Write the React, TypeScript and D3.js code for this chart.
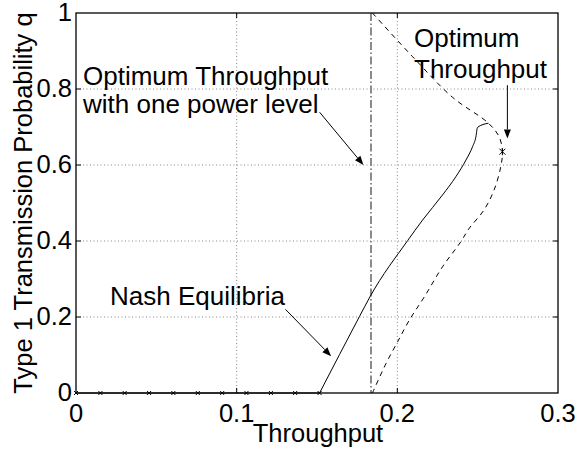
import { useEffect, useRef } from 'react';
import * as d3 from 'd3';

// x markers along q = 0 (Nash equilibria at zero transmission)
const zeroThroughput = [0, 0.0152, 0.0303, 0.0455, 0.0606, 0.0758, 0.091, 0.1061, 0.1213, 0.1364, 0.1516];

// Nash equilibria curve (solid)
const nashThroughput = [0, 0.1516, 0.1764, 0.1832, 0.2064, 0.2157, 0.2281, 0.2364, 0.2427, 0.2468, 0.2489, 0.2499, 0.2567];
const nashQ = [0, 0, 0.201, 0.255, 0.401, 0.455, 0.521, 0.569, 0.613, 0.648, 0.674, 0.699, 0.71];

// Optimum throughput curve (dashed)
const optThroughput = [0.1845, 0.2095, 0.2344, 0.2567, 0.2634, 0.2654, 0.2644, 0.2602, 0.254, 0.2445, 0.2395, 0.2281, 0.2168, 0.2075, 0.2002, 0.193, 0.1845];
const optQ = [1, 0.885, 0.778, 0.71, 0.674, 0.635, 0.596, 0.534, 0.482, 0.432, 0.398, 0.332, 0.253, 0.192, 0.135, 0.078, 0];

// optimum with one power level (vertical dash-dot)
const onePowerThroughput = 0.1836;
const optimumPoint = [0.2654, 0.635];

const xTicks = [0, 0.1, 0.2, 0.3];
const yTicks = [0, 0.2, 0.4, 0.6, 0.8, 1];

const App = () => {
    const svgRef = useRef<SVGSVGElement>(null);
    const width = 587;
    const height = 452;
    const font = '"Liberation Sans", Arial, Helvetica, sans-serif';

    useEffect(() => {
        const svg = d3.select(svgRef.current);
        svg.selectAll('*').remove();

        const x = d3.scaleLinear().domain([0, 0.3]).range([76, 558]);
        const y = d3.scaleLinear().domain([0, 1]).range([393, 13]);

        // grid
        const grid = svg.append('g')
            .attr('stroke', '#888')
            .attr('stroke-width', 1)
            .attr('stroke-dasharray', '1,2.5');
        grid.selectAll('.gx')
            .data(xTicks.slice(1, -1))
            .join('line')
            .attr('x1', d => x(d)).attr('x2', d => x(d))
            .attr('y1', y(0)).attr('y2', y(1));
        grid.selectAll('.gy')
            .data(yTicks.slice(1, -1))
            .join('line')
            .attr('class', 'gy')
            .attr('x1', x(0)).attr('x2', x(0.3))
            .attr('y1', d => y(d)).attr('y2', d => y(d));

        // vertical dash-dot line
        svg.append('line')
            .attr('x1', x(onePowerThroughput)).attr('x2', x(onePowerThroughput))
            .attr('y1', y(1)).attr('y2', y(0))
            .attr('stroke', '#8a8a8a')
            .attr('stroke-width', 2)
            .attr('stroke-dasharray', '8,2.5,1.5,2.5');

        // dashed optimum
        const optLine = d3.line<number>()
            .x((_, i) => x(optThroughput[i]))
            .y(d => y(d))
            .curve(d3.curveCatmullRom.alpha(0.5));
        svg.append('path')
            .attr('d', optLine(optQ))
            .attr('fill', 'none')
            .attr('stroke', 'black')
            .attr('stroke-width', 1)
            .attr('stroke-dasharray', '5,4.5');

        // solid nash: flat part along q = 0, then the rising branch
        const flatLine = d3.line<number>()
            .x((_, i) => x(nashThroughput[i]))
            .y(d => y(d));
        const riseX = nashThroughput.slice(1);
        const riseLine = d3.line<number>()
            .x((_, i) => x(riseX[i]))
            .y(d => y(d))
            .curve(d3.curveMonotoneX);
        svg.append('path')
            .attr('d', (flatLine(nashQ.slice(0, 2)) ?? '') + (riseLine(nashQ.slice(1)) ?? ''))
            .attr('fill', 'none')
            .attr('stroke', 'black')
            .attr('stroke-width', 1);

        // x markers
        const s = 2;
        svg.append('g')
            .selectAll('path')
            .data(zeroThroughput)
            .join('path')
            .attr('d', d => `M${x(d) - s},${y(0) - s}L${x(d) + s},${y(0) + s}M${x(d) - s},${y(0) + s}L${x(d) + s},${y(0) - s}`)
            .attr('stroke', 'black')
            .attr('stroke-width', 1);

        // star marker
        const sx = x(optimumPoint[0]);
        const sy = y(optimumPoint[1]);
        const r = 3;
        svg.append('path')
            .attr('d', `M${sx - r},${sy - r}L${sx + r},${sy + r}M${sx - r},${sy + r}L${sx + r},${sy - r}M${sx},${sy - r - 0.5}L${sx},${sy + r + 0.5}`)
            .attr('stroke', 'black')
            .attr('stroke-width', 1);

        // axes box
        svg.append('rect')
            .attr('x', x(0)).attr('y', y(1))
            .attr('width', x(0.3) - x(0)).attr('height', y(0) - y(1))
            .attr('fill', 'none')
            .attr('stroke', 'black')
            .attr('stroke-width', 1.3);

        const tk = svg.append('g').attr('stroke', 'black').attr('stroke-width', 1);
        xTicks.slice(1, -1).forEach(t => {
            tk.append('line').attr('x1', x(t)).attr('x2', x(t)).attr('y1', y(0)).attr('y2', y(0) - 5);
            tk.append('line').attr('x1', x(t)).attr('x2', x(t)).attr('y1', y(1)).attr('y2', y(1) + 5);
        });
        yTicks.slice(1, -1).forEach(t => {
            tk.append('line').attr('x1', x(0)).attr('x2', x(0) + 5).attr('y1', y(t)).attr('y2', y(t));
            tk.append('line').attr('x1', x(0.3)).attr('x2', x(0.3) - 5).attr('y1', y(t)).attr('y2', y(t));
        });

        // tick labels
        svg.append('g')
            .selectAll('text')
            .data(xTicks)
            .join('text')
            .attr('x', d => x(d))
            .attr('y', 422)
            .attr('text-anchor', 'middle')
            .style('font-family', font)
            .style('font-size', '25.5px')
            .text(d => d3.format('')(d));
        svg.append('g')
            .selectAll('text')
            .data(yTicks)
            .join('text')
            .attr('x', 72)
            .attr('y', d => y(d) + 8)
            .attr('text-anchor', 'end')
            .style('font-family', font)
            .style('font-size', '25.5px')
            .text(d => d3.format('')(d));

        // axis titles
        svg.append('text')
            .attr('x', 318)
            .attr('y', 442)
            .attr('text-anchor', 'middle')
            .style('font-family', font)
            .style('font-size', '25.5px')
            .text('Throughput');
        svg.append('text')
            .attr('transform', `translate(32, ${(y(0) + y(1)) / 2}) rotate(-90)`)
            .attr('text-anchor', 'middle')
            .style('font-family', font)
            .style('font-size', '25.5px')
            .text('Type 1 Transmission Probability q');

        // annotations
        const note = (tx: number, ty: number, str: string) => svg.append('text')
            .attr('x', tx).attr('y', ty)
            .style('font-family', font)
            .style('font-size', '26px')
            .text(str);
        note(83, 85, 'Optimum Throughput');
        note(83, 113, 'with one power level');
        note(414, 47, 'Optimum');
        note(414, 78, 'Throughput');
        note(110, 305, 'Nash Equilibria');

        const arrow = (x0: number, y0: number, x1: number, y1: number) => {
            const ax0 = x(x0), ay0 = y(y0), ax1 = x(x1), ay1 = y(y1);
            const ang = Math.atan2(ay1 - ay0, ax1 - ax0);
            const len = 9, half = 3.5;
            const bx = ax1 - len * Math.cos(ang), by = ay1 - len * Math.sin(ang);
            svg.append('line')
                .attr('x1', ax0).attr('y1', ay0).attr('x2', bx).attr('y2', by)
                .attr('stroke', 'black').attr('stroke-width', 1);
            svg.append('path')
                .attr('d', `M${ax1},${ay1}L${bx + half * Math.sin(ang)},${by - half * Math.cos(ang)}L${bx - half * Math.sin(ang)},${by + half * Math.cos(ang)}Z`)
                .attr('fill', 'black');
        };
        arrow(0.1516, 0.739, 0.1789, 0.6);
        arrow(0.2685, 0.81, 0.2685, 0.67);
        arrow(0.1304, 0.22, 0.1588, 0.097);
    }, []);

    return (
        <svg ref={svgRef} width={width} height={height}
            style={{ position: 'absolute', left: 0, top: 0, background: 'white' }} />
    );
};

export default App;
